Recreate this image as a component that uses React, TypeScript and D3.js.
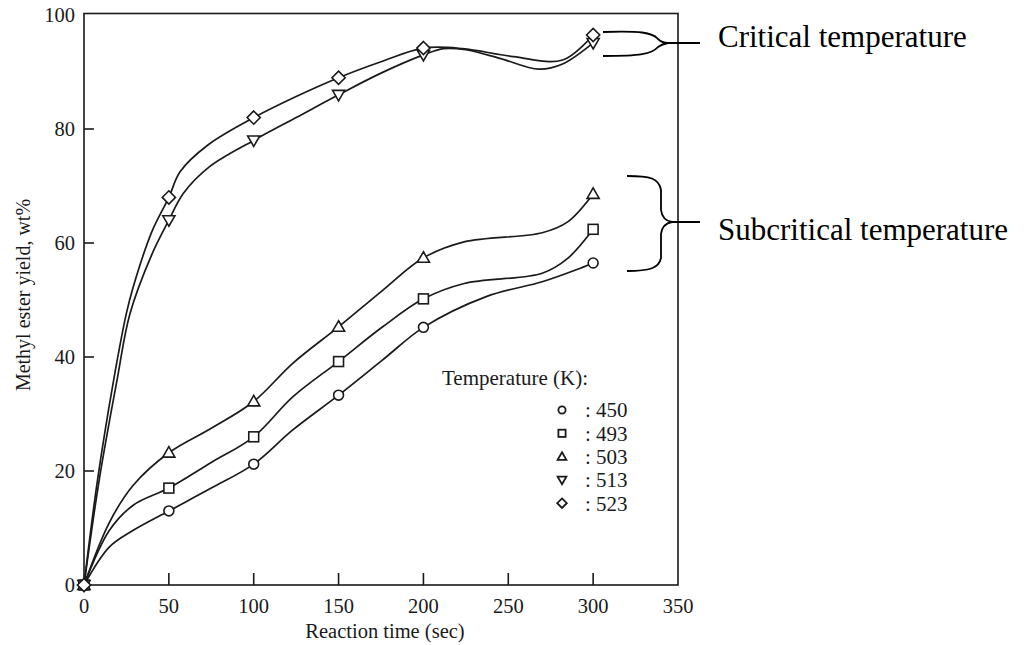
import React, { useEffect, useRef } from 'react';
import * as d3 from 'd3';

// measured points (reaction time, sec)
const times = [0, 50, 100, 150, 200, 300];

// methyl ester yield, wt% at each measured time
const yield450 = [0, 13, 21.2, 33.3, 45.2, 56.5];
const yield493 = [0, 17, 26, 39.2, 50.2, 62.4];
const yield503 = [0, 23.2, 32.2, 45.3, 57.4, 68.6];
const yield513 = [0, 64, 78, 86, 93, 95.1];
const yield523 = [0, 68, 82, 89, 94.2, 96.5];

// hand-drawn curves: [time, yield]
const curve450 = [[0, 0], [15, 6.7], [29, 9.6], [50, 13], [75, 17], [100, 21.2], [123, 27.2], [150, 33.3], [176, 39.5], [200, 45.2], [237, 50.6], [270, 53.2], [290, 55.3], [300, 56.5]];
const curve493 = [[0, 0], [15, 9.6], [29, 14], [50, 17], [75, 21.5], [100, 26], [123, 33], [150, 39.2], [176, 45.3], [200, 50.2], [224, 52.9], [270, 54.7], [285, 57.3], [300, 62.4]];
const curve503 = [[0, 0], [15, 11], [29, 17.5], [50, 23.2], [75, 27.5], [100, 32.2], [123, 38.9], [150, 45.3], [176, 51.7], [200, 57.4], [224, 60.2], [270, 61.8], [285, 63.7], [300, 68.6]];
const curve513 = [[0, 0], [9, 18.5], [19.5, 36], [27, 47.5], [40, 58], [50, 64], [58.5, 68.7], [74, 73.4], [100, 78], [125, 82], [150, 86], [175, 89.8], [200, 93], [212, 94.1], [225, 93.9], [245, 92.4], [268, 90.5], [282, 91.4], [300, 95.1]];
const curve523 = [[0, 0], [8, 18.5], [17.5, 36], [25, 47.7], [29, 52.3], [40, 62], [50, 68], [56.6, 72.5], [73, 77.2], [100, 82], [125, 85.7], [150, 89], [175, 91.8], [200, 94.2], [223, 94.1], [253, 92.7], [282, 92.1], [300, 96.5]];

const seriesNames = ['450', '493', '503', '513', '523'];
const seriesShapes = ['circle', 'square', 'triangle', 'triangleDown', 'diamond'];

const xTicks = [0, 50, 100, 150, 200, 250, 300, 350];
const yTicks = [0, 20, 40, 60, 80, 100];

const FONT = '"Liberation Serif", "Times New Roman", serif';
const INK = '#1a1a1a';

// draws an open marker centred at 0,0
const drawMarker = (g, shape, size) => {
  const s = size;
  if (shape === 'circle') {
    g.append('circle').attr('r', s * 0.45);
  } else if (shape === 'square') {
    g.append('rect').attr('x', -s * 0.45).attr('y', -s * 0.45).attr('width', s * 0.9).attr('height', s * 0.9);
  } else if (shape === 'triangle') {
    g.append('path').attr('d', `M0,${-s * 0.55}L${s * 0.55},${s * 0.4}L${-s * 0.55},${s * 0.4}Z`);
  } else if (shape === 'triangleDown') {
    g.append('path').attr('d', `M0,${s * 0.55}L${s * 0.55},${-s * 0.4}L${-s * 0.55},${-s * 0.4}Z`);
  } else {
    g.append('path').attr('d', `M0,${-s * 0.6}L${s * 0.6},0L0,${s * 0.6}L${-s * 0.6},0Z`);
  }
};

const YieldChart = () => {
  const chartRef = useRef(null);

  useEffect(() => {
    const svg = d3.select(chartRef.current);
    svg.selectAll('*').remove();

    const x = d3.scaleLinear().domain([0, 350]).range([84, 678]);
    const y = d3.scaleLinear().domain([0, 100]).range([585, 15]);

    const yields = [yield450, yield493, yield503, yield513, yield523];
    const curves = [curve450, curve493, curve503, curve513, curve523];

    svg.append('rect').attr('width', 1027).attr('height', 645).attr('fill', 'white');

    // frame
    svg.append('rect')
      .attr('x', x(0)).attr('y', 13.5)
      .attr('width', x(350) - x(0)).attr('height', y(0) - 13.5)
      .attr('fill', 'none').attr('stroke', INK).attr('stroke-width', 1.6);

    // inward ticks
    svg.append('g').selectAll('line')
      .data(xTicks.filter(t => t > 0 && t < 350))
      .join('line')
      .attr('x1', d => x(d)).attr('x2', d => x(d))
      .attr('y1', y(0)).attr('y2', y(0) - 12)
      .attr('stroke', INK).attr('stroke-width', 1.6);
    svg.append('g').selectAll('line')
      .data(yTicks.filter(t => t > 0 && t < 100))
      .join('line')
      .attr('x1', x(0)).attr('x2', x(0) + 10)
      .attr('y1', d => y(d)).attr('y2', d => y(d))
      .attr('stroke', INK).attr('stroke-width', 1.6);

    // tick labels
    svg.append('g').selectAll('text')
      .data(xTicks)
      .join('text')
      .attr('x', d => x(d)).attr('y', 612.5)
      .attr('text-anchor', 'middle')
      .attr('font-family', FONT).attr('font-size', 20.5).attr('fill', INK)
      .text(d => d);
    svg.append('g').selectAll('text')
      .data(yTicks)
      .join('text')
      .attr('x', 75).attr('y', d => y(d)).attr('dy', '0.35em')
      .attr('text-anchor', 'end')
      .attr('font-family', FONT).attr('font-size', 20.5).attr('fill', INK)
      .text(d => d);

    // axis titles
    svg.append('text')
      .attr('x', (x(0) + x(350)) / 2 + 4).attr('y', 638)
      .attr('text-anchor', 'middle')
      .attr('font-family', FONT).attr('font-size', 20.5).attr('fill', INK)
      .text('Reaction time (sec)');
    svg.append('text')
      .attr('transform', 'translate(30,295) rotate(-90)')
      .attr('text-anchor', 'middle')
      .attr('font-family', FONT).attr('font-size', 20).attr('fill', INK)
      .text('Methyl ester yield, wt%');

    // curves
    const line = d3.line()
      .x(d => x(d[0]))
      .y(d => y(d[1]))
      .curve(d3.curveCatmullRom.alpha(0.5));

    svg.append('g').selectAll('path')
      .data(curves)
      .join('path')
      .attr('d', d => line(d))
      .attr('fill', 'none')
      .attr('stroke', INK)
      .attr('stroke-width', 1.7);

    // markers
    yields.forEach((vals, i) => {
      const g = svg.append('g')
        .attr('fill', 'white').attr('stroke', INK).attr('stroke-width', 1.6);
      vals.forEach((v, j) => {
        const m = g.append('g').attr('transform', `translate(${x(times[j])},${y(v)})`);
        drawMarker(m, seriesShapes[i], 11);
      });
    });

    // legend
    const legend = svg.append('g');
    legend.append('text')
      .attr('x', 442).attr('y', 385)
      .attr('font-family', FONT).attr('font-size', 21).attr('fill', INK)
      .text('Temperature (K):');
    seriesNames.forEach((name, i) => {
      const cy = 410 + i * 23.3;
      const m = legend.append('g')
        .attr('transform', `translate(562,${cy})`)
        .attr('fill', 'white').attr('stroke', INK).attr('stroke-width', 1.8);
      drawMarker(m, seriesShapes[i], 8);
      legend.append('text')
        .attr('x', 585).attr('y', cy).attr('dy', '0.35em')
        .attr('font-family', FONT).attr('font-size', 21).attr('fill', INK)
        .text(`: ${name}`);
    });

    // annotation braces
    const ann = svg.append('g').attr('fill', 'none').attr('stroke', '#000').attr('stroke-width', 1.8);
    ann.append('path').attr('d', 'M603,32 C640,31 652,32 658,39 Q662,43 668,43 M603,56 C640,56 652,54 658,47 Q662,44 668,43 M663,43 L700,43');
    ann.append('path').attr('d', 'M627,176 C650,176 659,178 661,190 L661,210 C662,218 666,221 672,222 C666,223 662,226 661,234 L661,258 C659,268 650,271 627,271 M672,222 L700,222');

    svg.append('text')
      .attr('x', 718).attr('y', 46.5)
      .attr('font-family', FONT).attr('font-size', 31).attr('fill', '#000')
      .text('Critical temperature');
    svg.append('text')
      .attr('x', 718).attr('y', 240)
      .attr('font-family', FONT).attr('font-size', 31).attr('fill', '#000')
      .text('Subcritical temperature');
  }, []);

  return (
    <svg ref={chartRef} width={1027} height={645}
      style={{ position: 'absolute', left: 0, top: 0 }} />
  );
};

export default function App() {
  return <YieldChart />;
}
